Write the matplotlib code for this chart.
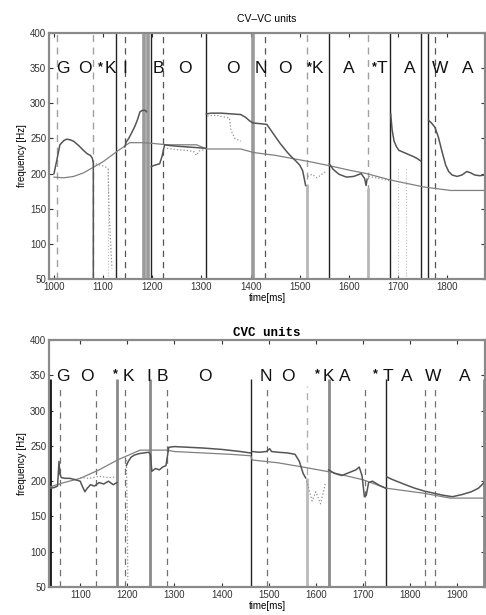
import numpy as np
import matplotlib
matplotlib.use("Agg")
import matplotlib.pyplot as plt

# ---------------- data: top panel (CV-VC units) ----------------
top_obs_t = [1000, 1006, 1012, 1020, 1026, 1033, 1040, 1050, 1060, 1068, 1074, 1078, 1080, 1080, np.nan,
             1144, 1147, 1152, 1158, 1165, 1170, 1175, 1180, 1186, 1188, np.nan,
             1198, 1205, 1215, 1220, 1225, 1235, 1250, 1270, 1290, 1308, np.nan,
             1310, 1320, 1340, 1360, 1380, 1390, 1398, 1405, 1420, 1433, 1445, 1460, 1475, 1483, 1492,
             1500, 1506, 1510, 1512, np.nan,
             1560, 1568, 1580, 1595, 1610, 1625, 1632, 1635, 1637, np.nan,
             1685, 1688, 1692, 1697, 1702, 1712, 1722, 1732, 1740, 1746, np.nan,
             1762, 1768, 1775, 1782, 1790, 1797, 1803, 1810, 1820, 1830, 1840, 1848, 1856, 1866, 1877]
top_obs_f = [200, 220, 241, 247, 249, 248, 246, 240, 233, 228, 226, 222, 215, 50, np.nan,
             238, 245, 250, 258, 268, 277, 288, 290, 290, 288, np.nan,
             210, 212, 214, 225, 241, 240, 239, 238, 237, 236, np.nan,
             285, 286, 286, 285, 284, 280, 275, 272, 271, 270, 258, 243, 230, 224, 218,
             212, 204, 190, 183, np.nan,
             214, 206, 199, 195, 196, 200, 193, 183, 192, np.nan,
             285, 262, 246, 238, 233, 230, 227, 224, 221, 218, np.nan,
             276, 272, 266, 252, 230, 212, 203, 198, 196, 198, 203, 201, 198, 197, 198]

top_smooth_t = [1000, 1020, 1040, 1060, 1080, 1100, 1127, 1154, 1180, 1200, 1230, 1290, 1311, 1380,
                1406, 1450, 1481, 1520, 1562, 1600, 1636, 1684, 1752, 1807, 1877]
top_smooth_f = [195, 194, 196, 201, 209, 217, 231, 244, 244, 243, 241, 241, 235, 235,
                230, 226, 222, 217, 211, 205, 200, 191, 181, 176, 176]

top_dot_t = [1085, 1095, 1104, 1110, 1112, 1116, 1118, np.nan,
             1230, 1250, 1270, 1285, 1290, 1295, 1305, np.nan,
             1312, 1330, 1350, 1357, 1360, 1368, 1380, np.nan,
             1516, 1525, 1535, 1545, 1555, np.nan,
             1640, 1655, 1670, 1682]
top_dot_f = [214, 212, 210, 207, 150, 90, 65, np.nan,
             236, 234, 233, 231, 226, 232, 234, np.nan,
             282, 283, 280, 279, 262, 250, 246, np.nan,
             196, 199, 194, 199, 204, np.nan,
             196, 194, 192, 190]

top_black = [1127, 1198, 1310, 1560, 1684, 1746, 1760]
top_gray_thick = [1184, 1191, 1404]
top_dashed = [1144, 1222, 1429, 1775]
top_dashed_gray = [1006, 1079, 1514, 1638]
top_drop_light = [1514, 1638]
top_drop_light_top = [185, 180]
top_dotted_v = [1110, 1700, 1716]

top_letters = ["G", "O", "K", "I", "B", "O", "O", "N", "O", "K", "A", "T", "A", "W", "A"]
top_letter_x = [1018, 1062, 1114, 1144, 1213, 1266, 1364, 1421, 1470, 1535, 1599, 1668, 1724, 1785, 1842]
top_star_x = [1094, 1520, 1652]

# ---------------- data: bottom panel (CVC units) ----------------
bot_obs_t = [1037, 1045, 1052, 1055, 1057, 1060, 1068, 1078, 1090, 1100, 1105, 1110, 1115, 1122, 1130,
             1140, 1150, 1160, 1170, 1178, np.nan,
             1198, 1202, 1208, 1215, 1225, 1235, 1245, 1249, 1252, 1260, 1268, 1275, 1282, 1288, 1300,
             1330, 1360, 1400, 1440, 1461, np.nan,
             1465, 1480, 1495, 1502, 1506, 1520, 1540, 1556, 1565, 1573, 1578, np.nan,
             1627, 1640, 1655, 1670, 1685, 1692, 1698, 1703, 1707, 1712, 1720, 1735, 1748, np.nan,
             1751, 1760, 1775, 1790, 1810, 1830, 1850, 1870, 1890, 1910, 1930, 1945, 1957]
bot_obs_f = [190, 191, 193, 228, 210, 205, 204, 204, 202, 200, 192, 185, 190, 195, 193,
             198, 196, 200, 195, 198, np.nan,
             222, 228, 234, 237, 239, 240, 241, 238, 214, 218, 216, 220, 222, 248, 249,
             248, 247, 245, 242, 240, np.nan,
             242, 241, 242, 246, 242, 241, 240, 238, 228, 211, 205, np.nan,
             216, 211, 208, 212, 216, 220, 208, 178, 180, 198, 200, 194, 190, np.nan,
             206, 203, 199, 195, 190, 186, 183, 180, 178, 181, 185, 190, 198]

bot_smooth_t = [1037, 1060, 1100, 1140, 1179, 1227, 1284, 1300, 1360, 1420, 1462, 1465, 1520,
                1581, 1630, 1700, 1750, 1828, 1885, 1957]
bot_smooth_f = [192, 197, 204, 216, 230, 244, 244, 242, 240, 238, 236, 230, 226,
                219, 213, 202, 190, 183, 176, 176]

bot_dot_t = [1100, 1120, 1140, 1160, 1178, np.nan,
             1198, 1200, 1201, np.nan,
             1578, 1585, 1592, 1600, 1610, 1620]
bot_dot_f = [205, 204, 207, 205, 206, np.nan,
             230, 150, 60, np.nan,
             205, 190, 172, 185, 168, 196]

bot_black = [1463, 1749]
bot_black_left = [1037]
bot_gray_thick = [1179, 1249, 1627, 1957]
bot_dashed = [1058, 1134, 1195, 1284, 1496, 1705, 1832, 1853]
bot_dashed_light = [1581]
bot_drop_light = [1581]
bot_drop_light_top = [205]

bot_letters = ["G", "O", "K", "I", "B", "O", "N", "O", "K", "A", "T", "A", "W", "A"]
bot_letter_x = [1064, 1115, 1202, 1246, 1274, 1365, 1493, 1541, 1627, 1662, 1752, 1794, 1849, 1917]
bot_star_x = [1175, 1604, 1726]

yticks = [50, 100, 150, 200, 250, 300, 350, 400]
top_xticks = [1000, 1100, 1200, 1300, 1400, 1500, 1600, 1700, 1800]
bot_xticks = [1100, 1200, 1300, 1400, 1500, 1600, 1700, 1800, 1900]

# ---------------- drawing ----------------
plt.rcParams['font.family'] = ['Liberation Sans', 'DejaVu Sans']
fig = plt.figure(figsize=(4.86, 6.15), dpi=100)

ax1 = fig.add_axes([0.101, 0.5463, 0.897, 0.400])
ax2 = fig.add_axes([0.101, 0.0455, 0.897, 0.4016])


def style_axes(ax, xlim, xticks, title, title_font):
    ax.set_xlim(*xlim)
    ax.set_ylim(50, 400)
    ax.set_yticks(yticks)
    ax.set_xticks(xticks)
    ax.tick_params(direction='in', length=3, width=0.8, labelsize=7,
                   top=True, right=True, colors='#333333', pad=2)
    for s in ax.spines.values():
        s.set_color('#8a8a8a')
        s.set_linewidth(1.6)
    ax.set_xlabel('time[ms]', fontsize=7, labelpad=1)
    ax.set_ylabel('frequency [Hz]', fontsize=7, labelpad=2)
    ax.set_title(title, **title_font)


style_axes(ax1, (990, 1877), top_xticks, 'CV\u2013VC units',
           dict(fontsize=7.5, pad=8))
style_axes(ax2, (1034, 1959), bot_xticks, 'CVC units',
           dict(fontsize=9, family='Liberation Mono', fontweight='bold', pad=3))

# top panel markers
for x in top_black:
    ax1.axvline(x, color='#222222', lw=1.0)
for x in top_gray_thick:
    ax1.axvline(x, color='#9a9a9a', lw=2.6)
for x in top_dashed:
    ax1.axvline(x, color='#555555', lw=0.9, ls=(0, (5, 4)))
for x in top_dashed_gray:
    ax1.axvline(x, color='#a0a0a0', lw=1.0, ls=(0, (5, 4)))
ax1.vlines(top_drop_light, 50, top_drop_light_top, color='#b8b8b8', lw=2.0)
for x in top_dotted_v:
    ax1.axvline(x, ymax=0.45, color='#bbbbbb', lw=0.8, ls=':')

ax1.plot(top_smooth_t, top_smooth_f, color='#808080', lw=0.9)
ax1.plot(top_dot_t, top_dot_f, color='#909090', lw=0.9, ls=':')
ax1.plot(top_obs_t, top_obs_f, color='#555555', lw=1.1)

for s, x in zip(top_letters, top_letter_x):
    ax1.text(x, 349, s, fontsize=12.5, ha='center', va='center', color='#111111')
for x in top_star_x:
    ax1.text(x, 352, '*', fontsize=9, ha='center', va='center', color='#111111', fontweight='bold')

# bottom panel markers
ax2.vlines(bot_black, 50, 345, color='#222222', lw=1.0)
ax2.vlines(bot_black_left, 50, 345, color='#111111', lw=2.0)
ax2.vlines(bot_gray_thick, 50, 345, color='#8a8a8a', lw=2.0)
ax2.vlines(bot_dashed, 50, 335, color='#707070', lw=0.9, ls=(0, (5, 4)))
ax2.vlines(bot_dashed_light, 50, 335, color='#b0b0b0', lw=1.0, ls=(0, (5, 4)))
ax2.vlines(bot_drop_light, 50, bot_drop_light_top, color='#bbbbbb', lw=2.0)

ax2.plot(bot_smooth_t, bot_smooth_f, color='#808080', lw=0.9)
ax2.plot(bot_dot_t, bot_dot_f, color='#909090', lw=0.9, ls=':')
ax2.plot(bot_obs_t, bot_obs_f, color='#555555', lw=1.1)

for s, x in zip(bot_letters, bot_letter_x):
    ax2.text(x, 349, s, fontsize=12.5, ha='center', va='center', color='#111111')
for x in bot_star_x:
    ax2.text(x, 352, '*', fontsize=9, ha='center', va='center', color='#111111', fontweight='bold')

fig.savefig('out.png', dpi=100)
